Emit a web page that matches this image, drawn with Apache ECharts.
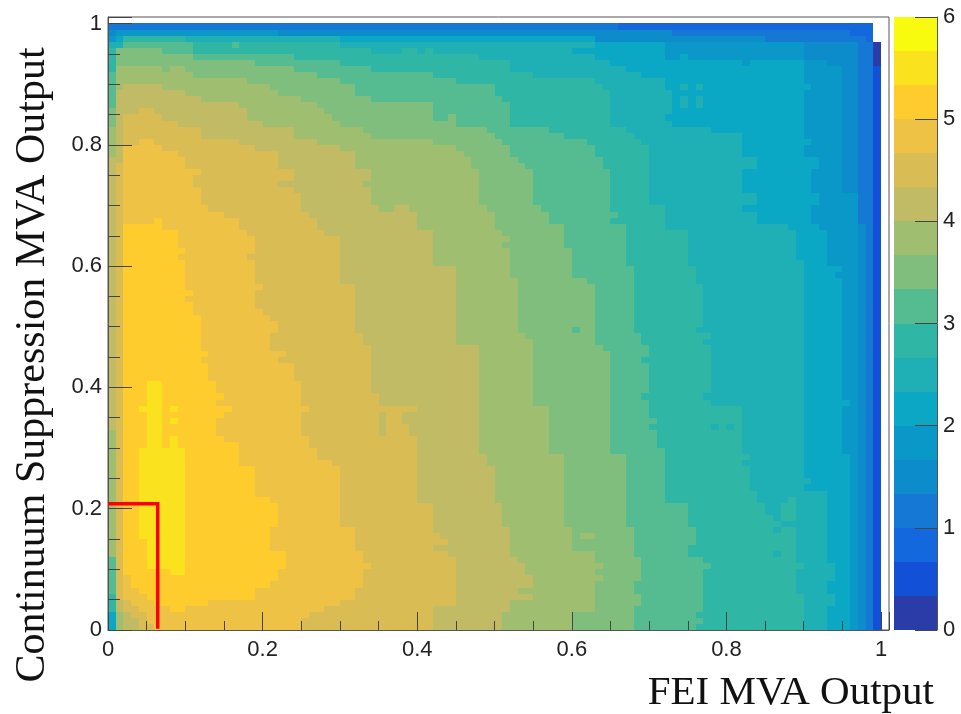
<!DOCTYPE html>
<html>
<head>
<meta charset="utf-8">
<style>html,body{margin:0;padding:0;background:#fff}#c{width:961px;height:714px}</style>
<script src="https://cdn.jsdelivr.net/npm/echarts@6/dist/echarts.min.js"></script>
</head>
<body>
<div id="c"></div>
<script>
// Colour bar: 18 bands of 1/3 between 0 and 6
const palette = ['#2a3ca8','#1350d8','#1268dc','#1478d4','#0d8ccc','#0a98c8','#0aa8c4','#1eb0b4','#30b6a4','#55bb90','#7fbe7c','#a0be70','#c0bb64','#d9bc54','#eec244','#fecc2c','#fae21e','#f8fb0e'];
const xTicks = [0,0.2,0.4,0.6,0.8,1];
const yTicks = [0,0.2,0.4,0.6,0.8,1];
const cutLine = [[0,0.208],[0.0643,0.208],[0.0643,0.002]];

// For each band k, [rowFromTop, binsFromLeft] = region at band >= k ends at that bin
const edge0 = [[0,99],[3,100]];
const edge1 = [[0,99],[7,100]];
const edge2 = [[0,99]];
const edge3 = [[0,66],[1,96],[2,98],[3,99]];
const edge4 = [[0,0],[1,73],[2,85],[3,97],[33,98]];
const edge5 = [[0,0],[1,22],[2,63],[3,90],[6,93],[7,95],[28,97]];
const edge6 = [[0,0],[2,63],[3,72],[6,90],[10,91],[11,90],[19,91],[20,90],[22,92],[24,91],[28,92],[30,91],[33,92],[34,93],[40,95],[41,94],[42,95],[62,96],[63,95],[71,96]];
const edge7 = [[0,0],[2,30],[3,63],[4,60],[5,63],[6,65],[7,67],[8,69],[9,72],[11,73],[15,72],[16,73],[17,78],[18,82],[22,84],[24,82],[28,84],[30,82],[31,84],[33,88],[34,89],[39,90],[75,91],[76,90],[77,93],[89,94],[92,93],[94,94],[96,93]];
const edge8 = [[0,0],[2,10],[3,30],[4,34],[5,48],[6,52],[8,55],[9,63],[10,64],[11,65],[17,67],[18,68],[19,69],[20,70],[30,72],[34,75],[40,76],[43,77],[50,76],[51,78],[52,77],[53,78],[61,77],[62,78],[63,82],[71,83],[72,82],[73,83],[77,84],[79,85],[81,86],[82,87],[83,89],[89,90],[90,89],[94,90]];
const edge9 = [[0,0],[3,11],[5,24],[6,30],[7,34],[8,42],[9,45],[10,50],[12,51],[13,52],[17,57],[18,59],[19,62],[20,63],[22,64],[24,65],[31,66],[32,65],[33,67],[40,68],[51,69],[53,70],[55,69],[56,70],[61,69],[62,70],[65,71],[66,70],[67,71],[70,72],[79,75],[83,76],[86,75],[88,77],[89,78],[90,77],[97,76],[98,77],[99,76]];
const edge10 = [[0,0],[4,7],[5,11],[6,19],[7,24],[8,27],[9,30],[10,32],[12,34],[13,42],[16,45],[17,49],[18,50],[19,51],[20,52],[22,53],[23,54],[24,55],[30,56],[31,57],[33,59],[37,60],[42,62],[43,63],[53,64],[54,65],[71,67],[83,68],[88,69],[92,68],[94,69],[96,68]];
const edge11 = [[0,0],[7,10],[8,11],[9,18],[10,21],[11,22],[12,25],[13,27],[14,28],[15,29],[16,30],[17,33],[18,34],[19,42],[20,45],[21,46],[22,47],[24,48],[30,49],[31,50],[34,51],[35,52],[36,51],[37,52],[42,53],[51,54],[52,55],[63,57],[71,59],[83,60],[87,63],[89,64],[90,63],[91,64],[92,63],[97,60]];
const edge12 = [[0,0],[10,7],[11,10],[12,12],[13,17],[14,18],[16,20],[17,24],[19,27],[20,30],[21,32],[24,34],[26,33],[27,34],[30,35],[31,40],[34,42],[40,45],[53,48],[71,49],[73,50],[79,51],[83,52],[88,53],[89,54],[91,55],[93,53],[94,55],[95,52],[97,51]];
const edge13 = [[0,0],[15,7],[16,9],[17,12],[19,17],[20,19],[21,22],[24,24],[26,22],[27,24],[28,25],[31,26],[32,27],[34,28],[35,30],[43,32],[51,33],[53,34],[61,35],[63,40],[64,38],[66,39],[68,40],[79,42],[84,43],[85,44],[86,42],[87,44],[88,45],[96,42]];
const edge14 = [[0,0],[19,6],[20,7],[21,9],[22,10],[24,12],[25,11],[27,12],[30,13],[31,15],[32,17],[34,18],[35,19],[38,18],[39,19],[43,20],[44,19],[47,20],[48,21],[49,22],[51,21],[54,23],[55,22],[56,24],[59,25],[63,26],[64,25],[68,26],[70,27],[72,29],[73,30],[83,32],[87,33],[89,34],[90,33],[93,32],[95,30],[96,28],[97,26],[98,25]];
const edge15 = [[0,0],[33,7],[34,9],[37,10],[38,9],[39,10],[44,11],[45,10],[46,11],[48,12],[54,13],[55,12],[56,13],[59,14],[61,15],[62,14],[63,16],[64,15],[65,14],[68,15],[69,17],[73,19],[78,21],[79,22],[83,21],[87,23],[90,22],[92,21],[93,19],[95,13],[96,10],[97,0]];
const edges = [edge0,edge1,edge2,edge3,edge4,edge5,edge6,edge7,edge8,edge9,edge10,edge11,edge12,edge13,edge14,edge15];

// Left-hand columns are lower than their neighbours: [rowFromTop, highest band]
const leftCol0 = [[0,3],[1,4],[2,5],[3,7],[4,8],[8,9],[14,10],[17,11],[22,12],[67,11],[88,9],[94,8],[97,6]];
const leftCol1 = [[0,3],[1,5],[2,6],[3,7],[4,10],[7,11],[11,12],[23,13],[95,12],[97,11]];
const leftCol2 = [[0,17],[91,14],[95,13],[97,12]];
const leftCol3 = [[0,17],[93,14],[96,13],[98,12]];
const leftCol4 = [[0,17],[94,14],[97,13]];
const leftCol5 = [[0,17],[95,14],[99,13]];
const leftCol6 = [[0,17],[96,14]];
const leftCol7 = [[0,17],[96,14]];
const leftCols = [leftCol0,leftCol1,leftCol2,leftCol3,leftCol4,leftCol5,leftCol6,leftCol7];

// Isolated groups of cells: [firstRow, lastRow, firstBin, lastBin, band]
const peakCells = [[59,62,5,6,16],[63,63,4,6,16],[63,63,8,8,16],[64,64,5,6,16],[65,65,5,6,16],[65,65,8,8,16],[66,67,5,6,16],[68,69,5,6,16],[68,69,8,8,16],[70,84,4,9,16],[85,89,5,9,16],[90,90,8,9,16]];
const islandCells = [[32,32,6,6,15],[14,14,4,5,13],[19,19,2,3,13],[3,3,16,16,9],[4,4,38,39,8],[4,4,41,41,8],[7,7,7,7,10],[15,15,44,44,10],[30,30,37,38,12],[64,67,35,35,12],[84,84,61,62,11],[50,50,60,60,9],[66,66,78,78,7],[66,66,80,80,7],[83,83,86,86,7],[87,87,86,86,7],[10,10,74,74,7],[10,10,76,76,7],[12,13,74,74,7],[12,13,76,76,7],[78,78,88,88,8],[79,81,87,88,8],[6,6,82,82,5],[5,5,74,74,6]];

function stepAt(list, row) {
  let v = list[0][1];
  for (const s of list) { if (s[0] <= row) v = s[1]; else break; }
  return v;
}
const bandGrid = [];
for (let row = 0; row < 100; row++) {
  const line = [];
  for (let bin = 0; bin < 100; bin++) {
    let band = -1;
    edges.forEach(function (e, k) { if (bin < stepAt(e, row)) band = k; });
    if (bin < leftCols.length) band = Math.min(band, stepAt(leftCols[bin], row));
    line.push(band);
  }
  bandGrid.push(line);
}
peakCells.concat(islandCells).forEach(function (p) {
  for (let r = p[0]; r <= p[1]; r++) for (let b = p[2]; b <= p[3]; b++) bandGrid[r][b] = p[4];
});
const cellData = [];
bandGrid.forEach(function (line, row) {
  line.forEach(function (band, bin) {
    if (band >= 0) cellData.push([bin / 100, (99 - row) / 100, band]);
  });
});
const barData = palette.map(function (c, k) { return [k]; });

const labelFont = {fontFamily: 'Liberation Sans', fontSize: 22, color: '#222'};
const axisCol = '#555';

const chart = echarts.init(document.getElementById('c'), null, {renderer: 'canvas'});
chart.setOption({
  animation: false,
  backgroundColor: '#fff',
  grid: [
    {left: 108, top: 17, width: 781, height: 613, show: true, borderColor: axisCol, borderWidth: 1, backgroundColor: '#fff'},
    {left: 894, top: 17, width: 43, height: 613, show: false}
  ],
  xAxis: [
    {type: 'value', gridIndex: 0, min: 0, max: 1.0103, interval: 0.2, position: 'bottom', z: 10,
      axisLine: {show: true, onZero: false, lineStyle: {color: axisCol, width: 1}},
      axisTick: {show: true, inside: true, length: 18, lineStyle: {color: '#444', width: 1}},
      minorTick: {show: true, splitNumber: 4, length: 9, lineStyle: {color: '#444', width: 1}},
      splitLine: {show: false},
      axisLabel: {margin: 9, customValues: xTicks, formatter: function (v) { return String(+v.toFixed(1)); }, hideOverlap: false, ...labelFont}
    },
    {type: 'value', gridIndex: 1, min: 0, max: 1, show: false}
  ],
  yAxis: [
    {type: 'value', gridIndex: 0, min: 0, max: 1.0107, interval: 0.2, z: 10,
      axisLine: {show: true, onZero: false, lineStyle: {color: axisCol, width: 1}},
      axisTick: {show: true, inside: true, length: 24, lineStyle: {color: '#444', width: 1}},
      minorTick: {show: true, splitNumber: 4, length: 12, lineStyle: {color: '#444', width: 1}},
      splitLine: {show: false},
      axisLabel: {margin: 6, customValues: yTicks, formatter: function (v) { return String(+v.toFixed(1)); }, hideOverlap: false, ...labelFont}
    },
    {type: 'value', gridIndex: 1, min: 0, max: 6, interval: 1, position: 'right', z: 10,
      axisLine: {show: true, onZero: false, lineStyle: {color: axisCol, width: 1}},
      axisTick: {show: true, inside: true, length: 22, lineStyle: {color: '#444', width: 1}},
      splitLine: {show: false},
      axisLabel: {margin: 6, ...labelFont}
    }
  ],
  series: [
    {type: 'custom', name: 'Significance', xAxisIndex: 0, yAxisIndex: 0, silent: true, progressive: 0, z: 1, clip: true,
      data: cellData, encode: {x: 0, y: 1},
      renderItem: function (params, api) {
        const a = api.coord([api.value(0), api.value(1)]);
        const b = api.coord([api.value(0) + 0.01, api.value(1) + 0.01]);
        const x0 = Math.round(a[0]), x1 = Math.round(b[0]), y0 = Math.round(b[1]), y1 = Math.round(a[1]);
        return {type: 'rect', shape: {x: x0, y: y0, width: x1 - x0, height: y1 - y0},
          style: {fill: palette[api.value(2)]}};
      }
    },
    {type: 'line', name: 'Cut', xAxisIndex: 0, yAxisIndex: 0, data: cutLine, symbol: 'none', silent: true, z: 15,
      lineStyle: {color: '#ff0000', width: 3.5, join: 'miter'}},
    {type: 'custom', name: 'Colour bar', xAxisIndex: 1, yAxisIndex: 1, silent: true, z: 1,
      data: barData, encode: {y: 0},
      renderItem: function (params, api) {
        const k = api.value(0);
        const a = api.coord([0, k / 3]);
        const b = api.coord([1, (k + 1) / 3]);
        const y0 = Math.round(b[1]), y1 = Math.round(a[1]);
        return {type: 'rect', shape: {x: a[0], y: y0, width: b[0] - a[0], height: y1 - y0},
          style: {fill: palette[k]}};
      }
    }
  ],
  graphic: [
    {type: 'text', x: 934, y: 693, z: 20, style: {text: 'FEI MVA Output', align: 'right', verticalAlign: 'middle',
      font: '41px "Liberation Serif"', fill: '#111'}},
    {type: 'text', x: 33, y: 365, rotation: Math.PI / 2, z: 20, style: {text: 'Continuum Suppression MVA Output', align: 'center', verticalAlign: 'middle',
      font: '42px "Liberation Serif"', fill: '#111'}}
  ]
});
</script>
</body>
</html>
